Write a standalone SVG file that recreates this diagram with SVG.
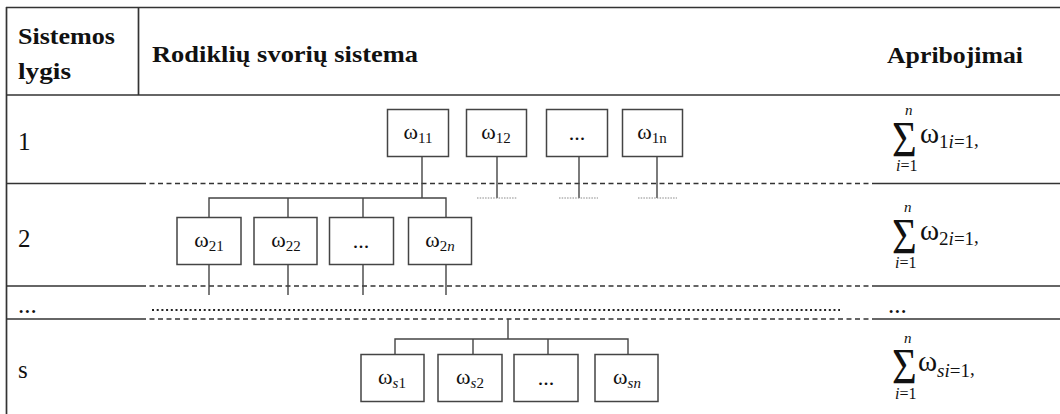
<svg xmlns="http://www.w3.org/2000/svg" width="1060" height="414" viewBox="0 0 1060 414">
<style>
text{font-family:"Liberation Serif","Times New Roman",serif;fill:#111}
.h{font-size:24px;font-weight:bold}
.lbl{font-size:25px}
.w{font-size:22px;text-anchor:middle}
.sub{font-size:15px}
.it{font-style:italic}
.tl{stroke:#333;stroke-width:1.7;fill:none}
.dash{stroke:#333;stroke-width:1.3;stroke-dasharray:5 3.5;fill:none}
.dots{stroke:#222;stroke-width:2;stroke-dasharray:2 2.7;fill:none}
.fine{stroke:#888;stroke-width:1;stroke-dasharray:1.5 1.2;fill:none}
.box{fill:#fff;stroke:#444;stroke-width:1.5}
.c{stroke:#444;stroke-width:1.4;fill:none}
.sig{font-size:50px}
.n{font-size:15px;font-style:italic}
.fw{font-size:29px}
.fs{font-size:19px}
.lo{font-size:16px}
</style>
<g id="table">
<line class="tl" x1="6" y1="7.5" x2="1060" y2="7.5"/>
<line class="tl" x1="6.5" y1="7" x2="6.5" y2="414"/>
<line class="tl" x1="138.5" y1="7" x2="138.5" y2="95"/>
<line class="tl" x1="6" y1="95" x2="1060" y2="95"/>
<line class="tl" x1="6" y1="183.5" x2="141" y2="183.5"/>
<line class="dash" x1="141" y1="183.5" x2="873" y2="183.5"/>
<line class="tl" x1="873" y1="183.5" x2="1060" y2="183.5"/>
<line class="tl" x1="6" y1="286" x2="141" y2="286"/>
<line class="dash" x1="141" y1="286" x2="873" y2="286"/>
<line class="tl" x1="873" y1="286" x2="1060" y2="286"/>
<line class="tl" x1="6" y1="319" x2="141" y2="319"/>
<line class="dash" x1="141" y1="319" x2="873" y2="319"/>
<line class="tl" x1="873" y1="319" x2="1060" y2="319"/>
<line class="dots" x1="152" y1="310" x2="840" y2="310"/>
<text class="h" x="18" y="44" textLength="97" lengthAdjust="spacingAndGlyphs">Sistemos</text>
<text class="h" x="18" y="79" textLength="53" lengthAdjust="spacingAndGlyphs">lygis</text>
<text class="h" x="152" y="62" textLength="266" lengthAdjust="spacingAndGlyphs">Rodiklių svorių sistema</text>
<text class="h" x="887" y="63" textLength="136" lengthAdjust="spacingAndGlyphs">Apribojimai</text>
<text class="lbl" x="18" y="150">1</text>
<text class="lbl" x="18" y="247">2</text>
<text class="lbl" x="18" y="313">...</text>
<text class="lbl" x="18" y="378">s</text>
<text class="lbl" x="888" y="313">...</text>
</g>
<g id="connectors">
<line class="c" x1="422" y1="156" x2="422" y2="198"/>
<line class="c" x1="497" y1="156" x2="497" y2="198"/>
<line class="c" x1="579" y1="156" x2="579" y2="198"/>
<line class="c" x1="657" y1="156" x2="657" y2="198"/>
<line class="fine" x1="477" y1="198" x2="517" y2="198"/>
<line class="fine" x1="559" y1="198" x2="598" y2="198"/>
<line class="fine" x1="638" y1="198" x2="677" y2="198"/>
<polyline class="c" points="209,217 209,198 446,198 446,217"/>
<line class="c" x1="288" y1="198" x2="288" y2="217"/>
<line class="c" x1="363" y1="198" x2="363" y2="217"/>
<line class="c" x1="209" y1="264" x2="209" y2="295"/>
<line class="c" x1="288" y1="264" x2="288" y2="295"/>
<line class="c" x1="363" y1="264" x2="363" y2="295"/>
<line class="c" x1="446" y1="264" x2="446" y2="295"/>
<line class="c" x1="508" y1="319" x2="508" y2="339"/>
<polyline class="c" points="395,354 395,339 628,339 628,354"/>
<line class="c" x1="473" y1="339" x2="473" y2="354"/>
<line class="c" x1="548" y1="339" x2="548" y2="354"/>
</g>
<g id="w11"><rect class="box" x="387.5" y="109.5" width="61" height="47"/><text class="w" x="418" y="139">ω<tspan class="sub" dy="4">11</tspan></text></g>
<g id="w12"><rect class="box" x="466.5" y="109.5" width="60" height="47"/><text class="w" x="496" y="139">ω<tspan class="sub" dy="4">12</tspan></text></g>
<g id="w1dots"><rect class="box" x="546.5" y="109.5" width="61" height="47"/><text class="w" x="577" y="140">...</text></g>
<g id="w1n"><rect class="box" x="622.5" y="109.5" width="60" height="47"/><text class="w" x="652" y="139">ω<tspan class="sub" dy="4">1n</tspan></text></g>
<g id="w21"><rect class="box" x="177" y="217.5" width="64" height="47"/><text class="w" x="209" y="247">ω<tspan class="sub" dy="4">21</tspan></text></g>
<g id="w22"><rect class="box" x="254" y="217.5" width="63" height="47"/><text class="w" x="286" y="247">ω<tspan class="sub" dy="4">22</tspan></text></g>
<g id="w2dots"><rect class="box" x="329.5" y="217.5" width="64" height="47"/><text class="w" x="361" y="248">...</text></g>
<g id="w2n"><rect class="box" x="408.5" y="217.5" width="63" height="47"/><text class="w" x="440" y="247">ω<tspan class="sub" dy="4">2<tspan class="it">n</tspan></tspan></text></g>
<g id="ws1"><rect class="box" x="361" y="354.5" width="63" height="47"/><text class="w" x="392" y="384">ω<tspan class="sub" dy="4"><tspan class="it">s</tspan>1</tspan></text></g>
<g id="ws2"><rect class="box" x="438" y="354.5" width="64" height="47"/><text class="w" x="470" y="384">ω<tspan class="sub" dy="4"><tspan class="it">s</tspan>2</tspan></text></g>
<g id="wsdots"><rect class="box" x="514" y="354.5" width="64" height="47"/><text class="w" x="546" y="385">...</text></g>
<g id="wsn"><rect class="box" x="595" y="354.5" width="63" height="47"/><text class="w" x="627" y="384">ω<tspan class="sub it" dy="4">sn</tspan></text></g>
<g id="f1">
<text class="n" x="905" y="115">n</text>
<text class="sig" transform="translate(892,156) scale(0.85,1)">Σ</text>
<text class="lo it" x="896" y="171">i<tspan font-style="normal">=1</tspan></text>
<text class="fw" x="920" y="143">ω<tspan class="fs" dy="5">1<tspan class="it">i</tspan>=1</tspan><tspan class="fs" dy="-2">,</tspan></text>
</g>
<g id="f2">
<text class="n" x="904" y="212">n</text>
<text class="sig" transform="translate(892,253) scale(0.85,1)">Σ</text>
<text class="lo it" x="895" y="268">i<tspan font-style="normal">=1</tspan></text>
<text class="fw" x="920" y="240">ω<tspan class="fs" dy="5">2<tspan class="it">i</tspan>=1</tspan><tspan class="fs" dy="-2">,</tspan></text>
</g>
<g id="fs">
<text class="n" x="904" y="343">n</text>
<text class="sig" transform="translate(892,383) scale(0.85,1)">Σ</text>
<text class="lo it" x="895" y="399">i<tspan font-style="normal">=1</tspan></text>
<text class="fw" x="918" y="371">ω<tspan class="fs" dy="6"><tspan class="it">si</tspan>=1</tspan><tspan class="fs" dy="-2">,</tspan></text>
</g>
</svg>
